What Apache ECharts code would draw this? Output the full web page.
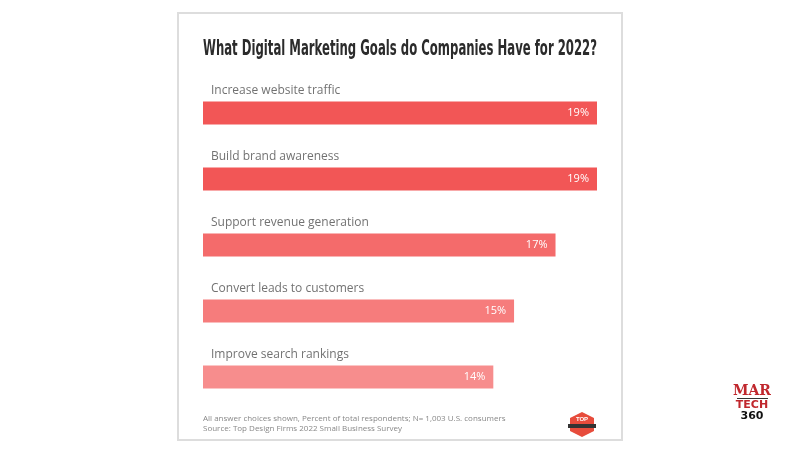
<!DOCTYPE html>
<html>
<head>
<meta charset="utf-8">
<script src="https://cdn.jsdelivr.net/npm/echarts@6/dist/echarts.min.js"></script>
<style>
html,body{margin:0;padding:0;background:#fff;}
#chart{width:800px;height:450px;}
</style>
</head>
<body>
<div id="chart"></div>
<script>
const categories = ["Increase website traffic","Build brand awareness","Support revenue generation","Convert leads to customers","Improve search rankings"];
const values = [19, 19, 17, 15, 14];
const barColors = ["#f25656","#f25656","#f46b6b","#f67c7c","#f78d8d"];
const titleText = "What Digital Marketing Goals do Companies Have for 2022?";
const noteLines = ["All answer choices shown, Percent of total respondents; N= 1,003 U.S. consumers","Source: Top Design Firms 2022 Small Business Survey"];

const titleFont = "bold 21px 'DejaVu Sans Condensed', 'DejaVu Sans', sans-serif";
const ctx = document.createElement('canvas').getContext('2d');
ctx.font = titleFont;
const titleW = ctx.measureText(titleText).width;
const titleScale = Math.min(1, 394 / titleW);

const chart = echarts.init(document.getElementById('chart'));
chart.setOption({
  backgroundColor: '#ffffff',
  animation: false,
  grid: {left: 203, right: 203, top: 80, height: 330},
  xAxis: {type: 'value', min: 0, max: 19, show: false},
  yAxis: {type: 'category', data: categories, inverse: true, show: false},
  series: [
    {
      type: 'bar',
      data: values.map((v, i) => ({value: v, itemStyle: {color: barColors[i]}})),
      barWidth: 23,
      label: {show: true, position: 'insideRight', distance: 8, formatter: '{c}%', color: '#ffffff', fontSize: 11, fontFamily: "'Open Sans',sans-serif"}
    },
    {
      type: 'scatter',
      data: categories.map(c => [0, c]),
      symbolSize: 0,
      silent: true,
      label: {show: true, position: 'right', offset: [3, -22], formatter: p => p.data[1], color: '#4d4d4d', fontSize: 12, fontFamily: "'Open Sans',sans-serif"}
    }
  ],
  graphic: [
    {type: 'rect', shape: {x: 178, y: 13, width: 444, height: 427}, style: {fill: 'none', stroke: '#dddddd', lineWidth: 2}, silent: true},
    {type: 'text', x: 203, y: 50, scaleX: titleScale, originX: 0, originY: 0,
     style: {text: titleText, fill: '#2b2b2b', font: titleFont, verticalAlign: 'middle', align: 'left'}},
    {type: 'text', x: 203, y: 413, style: {text: noteLines.join('\n'), fill: '#888888', fontSize: 8, lineHeight: 10.5, fontFamily: "'Open Sans',sans-serif"}},
    {type: 'polygon', shape: {points: [[582,412],[594,418],[594,431],[582,437],[570,431],[570,418]]}, style: {fill: '#e74c3c'}},
    {type: 'rect', shape: {x: 568, y: 424, width: 28, height: 4}, style: {fill: '#333333'}},
    {type: 'text', x: 582, y: 419, style: {text: 'TOP', fill: '#ffffff', fontSize: 6, fontWeight: 'bold', align: 'center', verticalAlign: 'middle', fontFamily: 'sans-serif'}},
    {type: 'text', x: 752, y: 391, style: {text: 'MAR', fill: '#c0272d', fontSize: 14, fontWeight: 'bold', align: 'center', verticalAlign: 'middle', fontFamily: "'DejaVu Serif',serif"}},
    {type: 'rect', shape: {x: 737, y: 398, width: 31, height: 1}, style: {fill: '#333333'}},
    {type: 'text', x: 752, y: 405, style: {text: 'TECH', fill: '#c0272d', fontSize: 11, fontWeight: 'bold', align: 'center', verticalAlign: 'middle', fontFamily: "'DejaVu Sans',sans-serif"}},
    {type: 'text', x: 752, y: 416, style: {text: '360', fill: '#111111', fontSize: 11, fontWeight: 'bold', align: 'center', verticalAlign: 'middle', fontFamily: "'DejaVu Sans',sans-serif"}}
  ]
});
</script>
</body>
</html>
